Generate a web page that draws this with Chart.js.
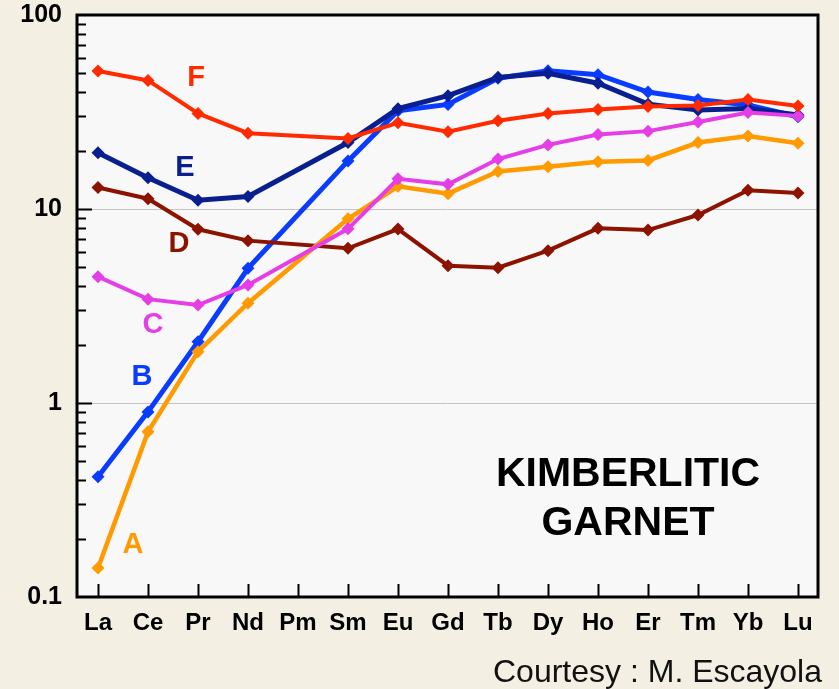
<!DOCTYPE html>
<html>
<head>
<meta charset="utf-8">
<script src="https://cdn.jsdelivr.net/npm/chart.js@4"></script>
<style>
html,body{margin:0;padding:0;background:#f3efe3;}
#wrap{width:839px;height:689px;position:relative;}
</style>
</head>
<body>
<div id="wrap"><canvas id="c" width="839" height="689"></canvas></div>
<script>
const categories = ['La','Ce','Pr','Nd','Pm','Sm','Eu','Gd','Tb','Dy','Ho','Er','Tm','Yb','Lu'];
const yTickValues = [0.1, 1, 10, 100];
const seriesA = [0.141, 0.71, 1.84, 3.27, null, 8.9, 13.1, 12.0, 15.6, 16.5, 17.5, 17.8, 22.0, 23.8, 21.8];
const seriesB = [0.417, 0.90, 2.07, 4.95, null, 17.7, 32.1, 34.6, 47.2, 51.6, 49.2, 40.1, 36.7, 34.4, 29.9];
const seriesC = [4.48, 3.43, 3.20, 4.06, null, 7.9, 14.3, 13.4, 18.1, 21.4, 24.2, 25.2, 28.1, 31.4, 30.2];
const seriesD = [12.9, 11.3, 7.86, 6.87, null, 6.27, 7.88, 5.10, 4.98, 6.10, 7.95, 7.79, 9.31, 12.5, 12.1];
const seriesE = [19.5, 14.5, 11.1, 11.6, null, 22.0, 32.9, 38.4, 47.7, 50.1, 44.5, 34.7, 32.4, 33.0, 30.5];
const seriesF = [51.4, 46.0, 31.1, 24.6, null, 23.1, 27.8, 25.0, 28.5, 31.1, 32.6, 33.8, 34.2, 36.7, 34.0];
const seriesNames = ['A','B','C','D','E','F'];
const seriesColors = ['#ff9a00','#0a3cff','#e63ee6','#8c1300','#0a1f8f','#ff2a00'];
const seriesData = [seriesA, seriesB, seriesC, seriesD, seriesE, seriesF];
const seriesWidths = [4.5, 5, 4, 4, 5, 4];
const seriesOrder = [3, 6, 2, 4, 5, 1];
// label anchor positions (category index, value)
const labelX = [0.7, 0.88, 1.1, 1.62, 1.74, 1.96];
const labelY = [0.185, 1.36, 2.52, 6.6, 16.3, 47.3];
const titleLines = ['KIMBERLITIC', 'GARNET'];
const titleX = 10.6;
const titleY = [0.425, 0.238];
const credit = 'Courtesy : M. Escayola';

const FONT = '"Liberation Sans", Arial, sans-serif';

const datasets = seriesData.map((vals, i) => ({
  label: seriesNames[i],
  data: vals.map((v, j) => ({x: j, y: v})),
  borderColor: seriesColors[i],
  backgroundColor: seriesColors[i],
  borderWidth: seriesWidths[i],
  pointStyle: 'rectRot',
  pointRadius: 6.5,
  pointHoverRadius: 6.5,
  pointBorderWidth: 0,
  spanGaps: true,
  tension: 0,
  order: seriesOrder[i]
}));

const decor = {
  id: 'decor',
  beforeDraw(chart) {
    const {ctx, chartArea: a} = chart;
    ctx.save();
    ctx.fillStyle = '#f3efe3';
    ctx.fillRect(0, 0, chart.width, chart.height);
    ctx.fillStyle = '#f8f8f8';
    ctx.fillRect(a.left, a.top, a.right - a.left, a.bottom - a.top);
    ctx.restore();
  },
  afterDatasetsDraw(chart) {
    const {ctx, chartArea: a, scales} = chart;
    const ys = scales.y, xs = scales.x;
    ctx.save();
    ctx.strokeStyle = '#000';
    ctx.lineWidth = 2;
    for (const d of [0.1, 1, 10]) {
      for (let k = 2; k <= 9; k++) {
        const py = Math.round(ys.getPixelForValue(d * k)) + 0.5;
        ctx.beginPath(); ctx.moveTo(a.left, py); ctx.lineTo(a.left + 9, py); ctx.stroke();
      }
    }
    for (const d of [1, 10]) {
      const py = Math.round(ys.getPixelForValue(d)) + 0.5;
      ctx.beginPath(); ctx.moveTo(a.left, py); ctx.lineTo(a.left + 15, py); ctx.stroke();
    }
    categories.forEach((c, i) => {
      const px = Math.round(xs.getPixelForValue(i)) + 0.5;
      ctx.beginPath(); ctx.moveTo(px, a.bottom); ctx.lineTo(px, a.bottom - 13); ctx.stroke();
    });
    ctx.lineWidth = 3;
    ctx.strokeRect(a.left, a.top, a.right - a.left, a.bottom - a.top);
    ctx.textAlign = 'center';
    ctx.textBaseline = 'middle';
    ctx.font = 'bold 29px ' + FONT;
    seriesNames.forEach((n, i) => {
      ctx.fillStyle = seriesColors[i];
      ctx.fillText(n, xs.getPixelForValue(labelX[i]), ys.getPixelForValue(labelY[i]));
    });
    ctx.fillStyle = '#000';
    ctx.font = 'bold 41px ' + FONT;
    titleLines.forEach((t, i) => {
      ctx.fillText(t, xs.getPixelForValue(titleX), ys.getPixelForValue(titleY[i]));
    });
    ctx.font = '32px ' + FONT;
    ctx.textAlign = 'right';
    ctx.textBaseline = 'alphabetic';
    ctx.fillStyle = '#111';
    ctx.fillText(credit, 822, 682);
    ctx.restore();
  }
};

new Chart(document.getElementById('c'), {
  type: 'line',
  data: { datasets },
  options: {
    responsive: false,
    animation: false,
    events: [],
    layout: { padding: { top: 15, right: 21, left: 0, bottom: 0 } },
    plugins: { legend: { display: false }, tooltip: { enabled: false } },
    scales: {
      x: {
        type: 'linear',
        min: -0.42,
        max: 14.4,
        afterBuildTicks(s) { s.ticks = categories.map((c, i) => ({value: i})); },
        afterFit(s) { s.height = 92; s.paddingLeft = 0; s.paddingRight = 0; },
        grid: { display: false, drawTicks: false },
        border: { display: false },
        ticks: {
          autoSkip: false,
          maxRotation: 0,
          padding: 12,
          color: '#000',
          font: { family: FONT, size: 24, weight: 'bold' },
          callback: (v) => categories[v]
        }
      },
      y: {
        type: 'logarithmic',
        min: 0.1,
        max: 100,
        afterBuildTicks(s) { s.ticks = yTickValues.map(v => ({value: v})); },
        afterFit(s) { s.width = 77; s.paddingTop = 0; s.paddingBottom = 0; },
        grid: {
          drawTicks: false,
          color: (c) => (c.tick && (c.tick.value === 1 || c.tick.value === 10)) ? '#c4c4c4' : 'rgba(0,0,0,0)',
          lineWidth: 1
        },
        border: { display: false },
        ticks: {
          padding: 15,
          color: '#000',
          font: { family: FONT, size: 25, weight: 'bold' },
          callback: (v) => String(v)
        }
      }
    }
  },
  plugins: [decor]
});
</script>
</body>
</html>
